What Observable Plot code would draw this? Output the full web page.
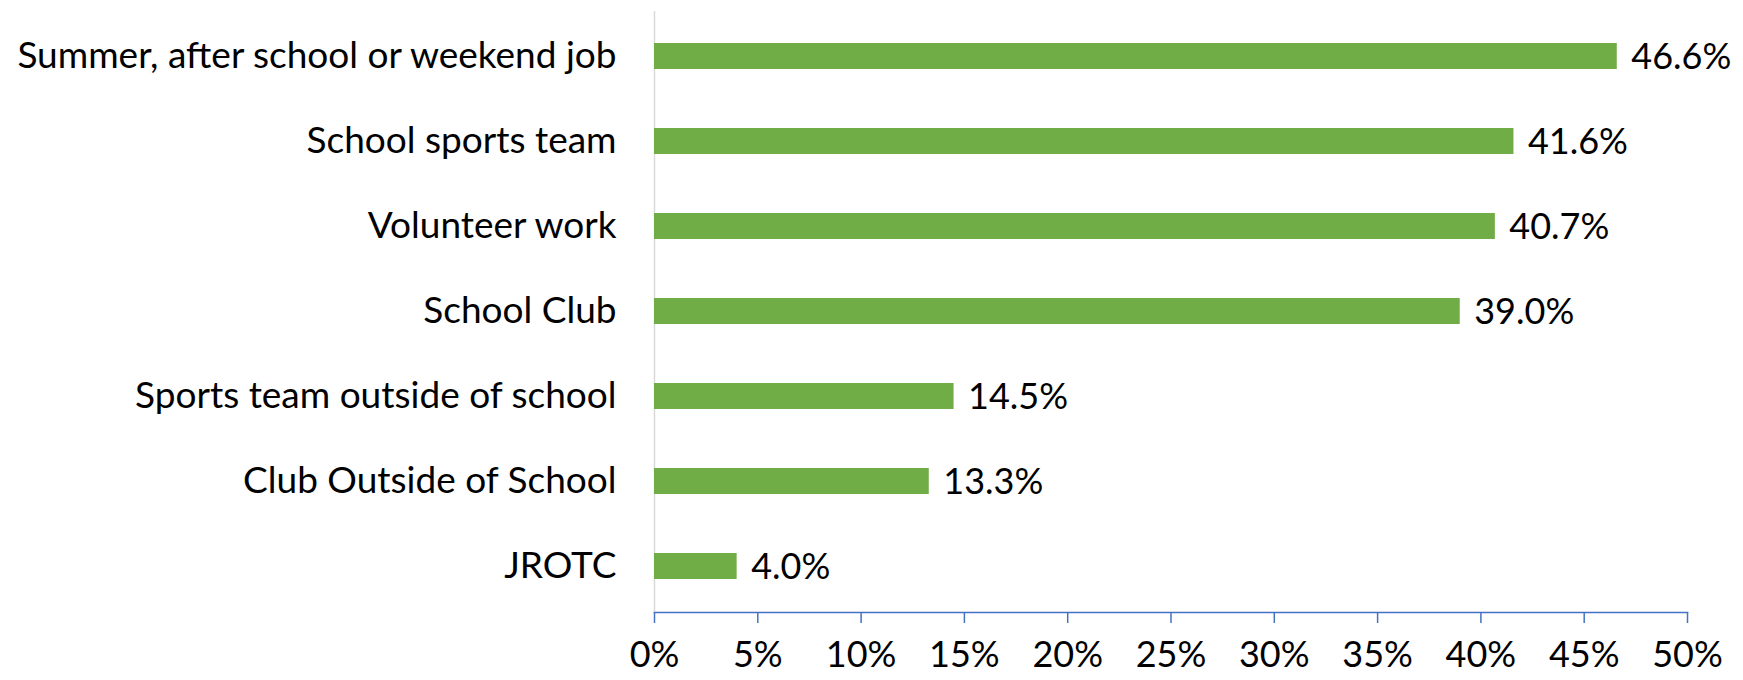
<!DOCTYPE html>
<html>
<head>
<meta charset="utf-8">
<script src="https://cdn.jsdelivr.net/npm/d3@7"></script>
<script src="https://cdn.jsdelivr.net/npm/@observablehq/plot@0.6"></script>
<style>
  html, body { margin: 0; padding: 0; background: #fff; }
  #chart { width: 1743px; height: 680px; }
</style>
</head>
<body>
<div id="chart"></div>
<script>
const categories = [
  "Summer, after school or weekend job",
  "School sports team",
  "Volunteer work",
  "School Club",
  "Sports team outside of school",
  "Club Outside of School",
  "JROTC"
];
const values = [46.6, 41.6, 40.7, 39.0, 14.5, 13.3, 4.0];
const xTicks = [0, 5, 10, 15, 20, 25, 30, 35, 40, 45, 50];

const data = categories.map((c, i) => ({category: c, value: values[i]}));
const FONT = "Lato, 'Open Sans', sans-serif";

const chart = Plot.plot({
  width: 1743,
  height: 680,
  marginLeft: 654,
  marginRight: 56,
  marginTop: 11,
  marginBottom: 68,
  style: {fontFamily: FONT, background: "#fff", color: "#000"},
  x: {domain: [0, 50], ticks: xTicks},
  y: {domain: categories, padding: 0.69, paddingOuter: 0.345},
  marks: [
    Plot.ruleX([0], {stroke: "#d9d9d9", strokeWidth: 1.5}),
    Plot.barX(data, {x: "value", y: "category", fill: "#70AD47"}),
    Plot.text(data, {
      x: "value", y: "category",
      text: d => d.value.toFixed(1) + "%",
      textAnchor: "start", dx: 14, dy: 1,
      fontSize: 36, fill: "#000"
    }),
    Plot.frame({anchor: "bottom", stroke: "#4472C4", strokeWidth: 1.5}),
    Plot.axisX({
      ticks: xTicks, tickSize: 11, tickPadding: 18,
      tickFormat: d => d + "%",
      stroke: "#4472C4", strokeWidth: 1.5,
      fill: "#000", fontSize: 36, label: null
    }),
    Plot.axisY({
      tickSize: 0, tickPadding: 38,
      fill: "#000", fontSize: 37, label: null
    })
  ]
});
document.getElementById("chart").appendChild(chart);
</script>
</body>
</html>
